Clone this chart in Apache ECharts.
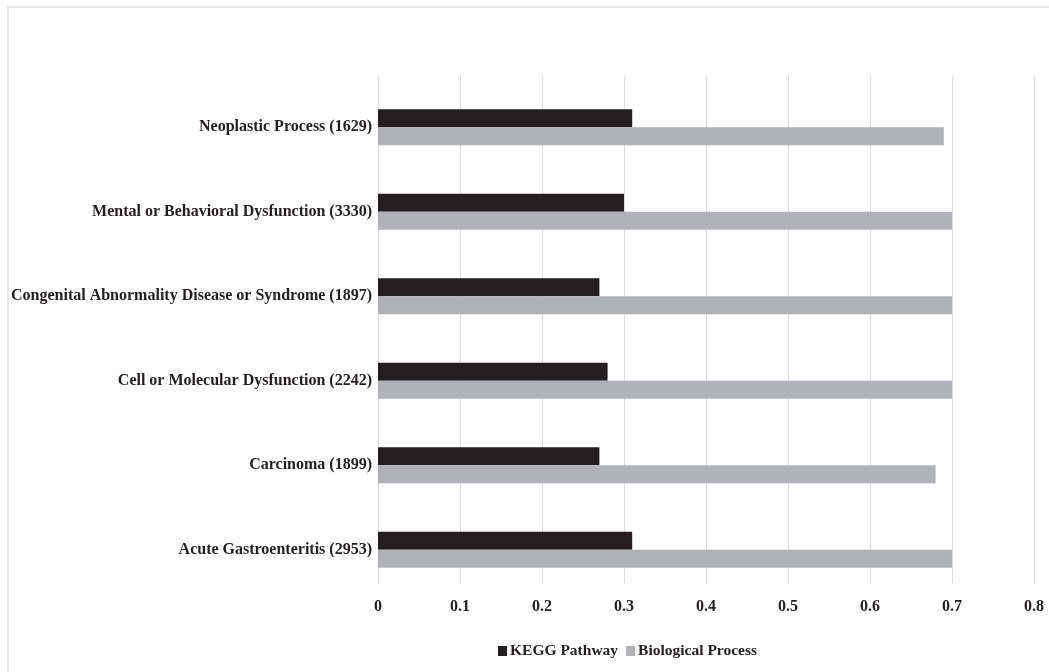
<!DOCTYPE html>
<html>
<head>
<meta charset="utf-8">
<script src="https://cdn.jsdelivr.net/npm/echarts@6/dist/echarts.min.js"></script>
<style>
html,body{margin:0;padding:0;background:#fff;}
#chart{width:1049px;height:672px;}
</style>
</head>
<body>
<div id="chart"></div>
<script>
const categories = [
  'Neoplastic Process (1629)',
  'Mental or Behavioral Dysfunction (3330)',
  'Congenital Abnormality Disease or Syndrome (1897)',
  'Cell or Molecular Dysfunction (2242)',
  'Carcinoma (1899)',
  'Acute Gastroenteritis (2953)'
];
const keggPathway = [0.31, 0.30, 0.27, 0.28, 0.27, 0.31];
const biologicalProcess = [0.69, 0.70, 0.70, 0.70, 0.68, 0.70];
const seriesNames = ['KEGG Pathway', 'Biological Process'];

const FONT = '"Liberation Serif", "Times New Roman", serif';
const TEXT = '#231f20';
const chart = echarts.init(document.getElementById('chart'), null, {renderer: 'canvas'});
chart.setOption({
  backgroundColor: '#ffffff',
  animation: false,
  graphic: [{
    type: 'rect', left: 7, top: 6, z: -10,
    shape: {width: 1100, height: 700},
    style: {fill: '#ffffff', stroke: '#e8e8e8', lineWidth: 2}
  }],
  legend: {
    data: seriesNames,
    left: 493, top: 638,
    icon: 'rect', itemWidth: 9, itemHeight: 10, itemGap: 8,
    textStyle: {fontFamily: FONT, fontWeight: 'bold', fontSize: 15.5, color: TEXT, padding: [0,0,0,-2]}
  },
  grid: [
    {left: 378, right: 15, top: 76, bottom: 89, containLabel: false},
    {left: 378, right: 15, top: 85, bottom: 80, containLabel: false}
  ],
  xAxis: [
    {
      gridIndex: 0, type: 'value', min: 0, max: 0.8, interval: 0.1,
      axisLine: {show: false}, axisTick: {show: false},
      splitLine: {show: true, lineStyle: {color: '#dddddd', width: 1}},
      axisLabel: {margin: 16, fontFamily: FONT, fontWeight: 'bold', fontSize: 16, color: TEXT,
        formatter: v => String(Math.round(v * 10) / 10)}
    },
    {gridIndex: 1, type: 'value', min: 0, max: 0.8, show: false}
  ],
  yAxis: [
    {gridIndex: 0, type: 'value', show: false},
    {
      gridIndex: 1, type: 'category', data: categories, inverse: true,
      axisLine: {show: false}, axisTick: {show: false}, splitLine: {show: false},
      axisLabel: {margin: 6, fontFamily: FONT, fontWeight: 'bold', fontSize: 16, color: TEXT}
    }
  ],
  series: [
    {
      name: seriesNames[0], type: 'bar', xAxisIndex: 1, yAxisIndex: 1,
      data: keggPathway, barWidth: 18, barGap: '0%',
      itemStyle: {color: '#231f20'}
    },
    {
      name: seriesNames[1], type: 'bar', xAxisIndex: 1, yAxisIndex: 1,
      data: biologicalProcess, barWidth: 18, barGap: '0%',
      itemStyle: {color: '#b1b2b6'}
    }
  ]
});
</script>
</body>
</html>
